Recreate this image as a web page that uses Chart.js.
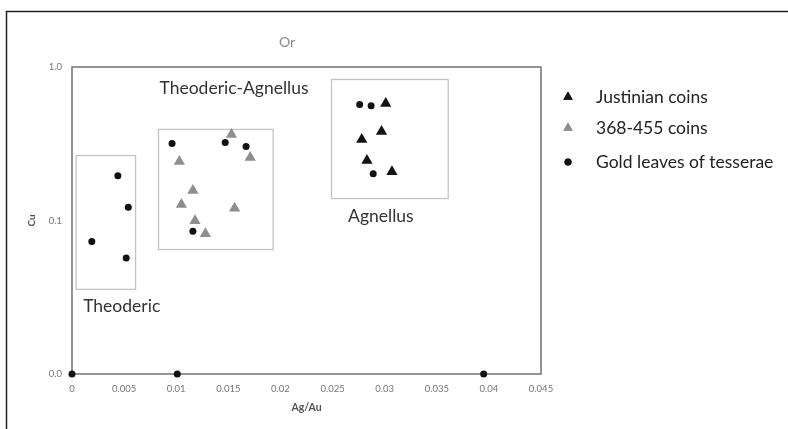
<!DOCTYPE html>
<html>
<head>
<meta charset="utf-8">
<script src="https://cdn.jsdelivr.net/npm/chart.js@4.4.1/dist/chart.umd.min.js"></script>
<style>
  html, body { margin: 0; padding: 0; background: #fff; }
  canvas { display: block; }
</style>
</head>
<body>
<canvas id="chart" width="788" height="429"></canvas>
<script>
// --- data (Ag/Au vs Cu, log y) ---
const justinianX = [0.0301, 0.0297, 0.0278, 0.0283, 0.0307];
const justinianY = [0.578, 0.380, 0.337, 0.246, 0.208];

const coinsX = [0.0153, 0.0103, 0.0171, 0.0116, 0.0105, 0.0156, 0.0118, 0.0128];
const coinsY = [0.363, 0.242, 0.257, 0.157, 0.127, 0.120, 0.0995, 0.082];

const leavesX = [0.0019, 0.0044, 0.0054, 0.0052, 0.0096, 0.0147, 0.0167, 0.0116, 0.0276, 0.0287, 0.0289, 0, 0.0101, 0.0395];
const leavesY = [0.073, 0.196, 0.122, 0.057, 0.318, 0.322, 0.304, 0.085, 0.57, 0.56, 0.202, 0.01, 0.01, 0.01];

const seriesNames = ['Justinian coins', '368-455 coins', 'Gold leaves of tesserae'];

// grouping boxes (data coordinates)
const boxNames = ['Theoderic', 'Theoderic-Agnellus', 'Agnellus'];
const boxXMin = [0.0004, 0.0083, 0.0249];
const boxXMax = [0.0061, 0.0193, 0.0361];
const boxYMin = [0.0356, 0.0647, 0.139];
const boxYMax = [0.265, 0.392, 0.829];

const yTicks = [0.01, 0.1, 1];

const pts = (xs, ys) => xs.map((x, i) => ({ x: x, y: ys[i] }));

const FONT = "Lato, 'Open Sans', sans-serif";

// frame, boxes, labels, legend
const decor = {
    id: 'decor',
    beforeDatasetsDraw(chart) {
        const ctx = chart.ctx;
        const xs = chart.scales.x, ys = chart.scales.y;
        ctx.save();
        // group boxes
        ctx.strokeStyle = '#c4c4c4';
        ctx.lineWidth = 1.3;
        ctx.font = '17.5px ' + FONT;
        ctx.fillStyle = '#333';
        ctx.textBaseline = 'middle';
        boxNames.forEach((name, i) => {
            const l = xs.getPixelForValue(boxXMin[i]);
            const r = xs.getPixelForValue(boxXMax[i]);
            const t = ys.getPixelForValue(boxYMax[i]);
            const b = ys.getPixelForValue(boxYMin[i]);
            ctx.strokeRect(l, t, r - l, b - t);
            if (i === 0) {
                ctx.textAlign = 'left';
                ctx.fillText(name, l + 7, b + 17);
            } else if (i === 1) {
                ctx.textAlign = 'left';
                ctx.fillText(name, l + 1, t - 41);
            } else {
                ctx.textAlign = 'center';
                ctx.fillText(name, (l + r) / 2 - 9, b + 18);
            }
        });
        // plot frame
        const a = chart.chartArea;
        ctx.strokeStyle = '#7a7a7a';
        ctx.lineWidth = 1.6;
        ctx.strokeRect(a.left, a.top, a.right - a.left, a.bottom - a.top);
        // outer figure frame
        ctx.strokeStyle = '#222';
        ctx.lineWidth = 1.5;
        ctx.beginPath();
        ctx.moveTo(6.5, 429);
        ctx.lineTo(6.5, 11.5);
        ctx.lineTo(788, 11.5);
        ctx.stroke();
        // title
        ctx.font = '14px ' + FONT;
        ctx.fillStyle = '#8a8a8a';
        ctx.textAlign = 'center';
        ctx.fillText('Or', 287, 42);
        ctx.restore();
    },
    afterDraw(chart) {
        const ctx = chart.ctx;
        ctx.save();
        ctx.font = '17.5px ' + FONT;
        ctx.textAlign = 'left';
        ctx.textBaseline = 'middle';
        const rows = [97, 128, 162];
        chart.data.datasets.forEach((ds, i) => {
            const y = rows[i];
            ctx.fillStyle = ds.backgroundColor;
            Chart.helpers.drawPoint(ctx, {
                pointStyle: ds.pointStyle,
                radius: ds.pointStyle === 'circle' ? 3.5 : 5.5,
                borderWidth: 0
            }, 568, y);
            ctx.fill();
            ctx.fillStyle = '#222';
            ctx.fillText(ds.label, 596, y);
        });
        ctx.restore();
    }
};

new Chart(document.getElementById('chart'), {
    type: 'scatter',
    data: {
        datasets: [
            {
                label: seriesNames[0],
                data: pts(justinianX, justinianY),
                pointStyle: 'triangle',
                radius: 6.5,
                backgroundColor: '#141414',
                borderWidth: 0,
                clip: false
            },
            {
                label: seriesNames[1],
                data: pts(coinsX, coinsY),
                pointStyle: 'triangle',
                radius: 6.5,
                backgroundColor: '#8e8e8e',
                borderWidth: 0,
                clip: false
            },
            {
                label: seriesNames[2],
                data: pts(leavesX, leavesY),
                pointStyle: 'circle',
                radius: 3.5,
                backgroundColor: '#111111',
                borderWidth: 0,
                clip: false
            }
        ]
    },
    options: {
        responsive: false,
        animation: false,
        layout: { padding: { left: 0, right: 247, top: 67, bottom: 0 } },
        plugins: {
            legend: { display: false },
            tooltip: { enabled: false }
        },
        scales: {
            x: {
                type: 'linear',
                min: 0,
                max: 0.045,
                grid: { display: false },
                border: { display: false },
                afterFit(scale) { scale.height = 55; },
                ticks: {
                    stepSize: 0.005,
                    padding: 1,
                    color: '#777',
                    font: { size: 9.5, family: FONT },
                    maxRotation: 0,
                    callback: v => String(parseFloat(v.toFixed(3)))
                },
                title: {
                    display: true,
                    text: 'Ag/Au',
                    color: '#555',
                    font: { size: 10.5, weight: 'bold', family: FONT },
                    padding: { top: 0, bottom: 15 }
                }
            },
            y: {
                type: 'logarithmic',
                min: 0.01,
                max: 1,
                grid: { display: false },
                border: { display: false },
                afterFit(scale) { scale.width = 72; },
                afterBuildTicks(scale) {
                    scale.ticks = yTicks.map(v => ({ value: v }));
                },
                ticks: {
                    padding: 2,
                    color: '#777',
                    font: { size: 9.5, family: FONT },
                    callback: v => Number(v).toFixed(1)
                },
                title: {
                    display: true,
                    text: 'Cu',
                    color: '#555',
                    font: { size: 10, weight: 'bold', family: FONT },
                    padding: { top: 26 }
                }
            }
        }
    },
    plugins: [decor]
});
</script>
</body>
</html>
